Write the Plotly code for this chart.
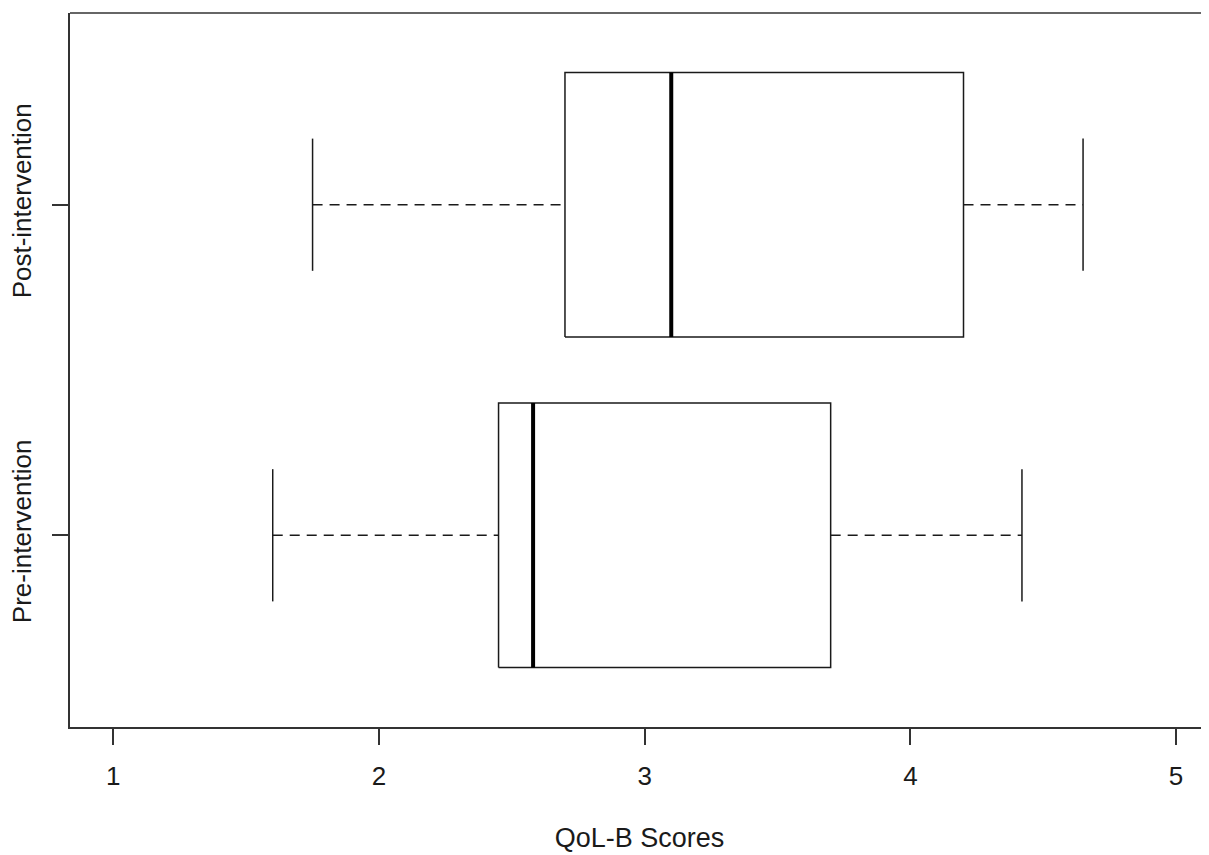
import plotly.graph_objects as go

# Data
categories = ["Pre-intervention", "Post-intervention"]
positions = [1, 2]
lower_whisker = [1.60, 1.75]
q1 = [2.45, 2.70]
median = [2.58, 3.10]
q3 = [3.70, 4.20]
upper_whisker = [4.42, 4.65]
x_ticks = [1, 2, 3, 4, 5]

BOX_HALF = 0.4
CAP_HALF = 0.2
LINE = "#1a1a1a"

fig = go.Figure()
for p, lo, a, m, b, hi in zip(positions, lower_whisker, q1, median, q3, upper_whisker):
    # dashed whiskers
    fig.add_trace(go.Scatter(x=[lo, a], y=[p, p], mode="lines",
                             line=dict(color=LINE, width=1.5, dash="10px,7px"),
                             showlegend=False, hoverinfo="skip"))
    fig.add_trace(go.Scatter(x=[b, hi], y=[p, p], mode="lines",
                             line=dict(color=LINE, width=1.5, dash="10px,7px"),
                             showlegend=False, hoverinfo="skip"))
    # staples
    for v in (lo, hi):
        fig.add_trace(go.Scatter(x=[v, v], y=[p - CAP_HALF, p + CAP_HALF], mode="lines",
                                 line=dict(color=LINE, width=1.5),
                                 showlegend=False, hoverinfo="skip"))
    # box
    fig.add_trace(go.Scatter(x=[a, b, b, a, a],
                             y=[p - BOX_HALF, p - BOX_HALF, p + BOX_HALF, p + BOX_HALF, p - BOX_HALF],
                             mode="lines", line=dict(color=LINE, width=1.5),
                             showlegend=False, hoverinfo="skip"))
    # median
    fig.add_trace(go.Scatter(x=[m, m], y=[p - BOX_HALF, p + BOX_HALF], mode="lines",
                             line=dict(color="black", width=4),
                             showlegend=False, hoverinfo="skip"))

font = dict(family="Liberation Sans, Arial, sans-serif", size=26, color="#1a1a1a")

fig.update_layout(
    width=1201, height=847,
    margin=dict(l=62, r=0, t=5, b=128),
    plot_bgcolor="white", paper_bgcolor="white",
    font=font,
    xaxis=dict(range=[0.837, 5.124], tickvals=x_ticks, ticktext=[str(t) for t in x_ticks],
               showgrid=False, zeroline=False, showline=True, linecolor="#333", linewidth=1.5,
               ticks="outside", ticklen=16, tickwidth=1.5, tickcolor="#333",
               ticklabelstandoff=9,
               title=dict(text="QoL-B Scores", standoff=38,
                          font=dict(family=font["family"], size=27, color=font["color"]))),
    yaxis=dict(range=[0.42, 2.58], tickvals=positions, ticktext=categories,
               tickangle=-90, showgrid=False, zeroline=False, showline=True,
               linecolor="#333", linewidth=1.5, ticklabelstandoff=11,
               ticks="outside", ticklen=16, tickwidth=1.5, tickcolor="#333"),
)
# top border of plot box
fig.add_shape(type="line", xref="paper", yref="paper", x0=0, x1=1, y0=1, y1=1,
              line=dict(color="#333", width=1.5))

fig.write_html("out.html")
